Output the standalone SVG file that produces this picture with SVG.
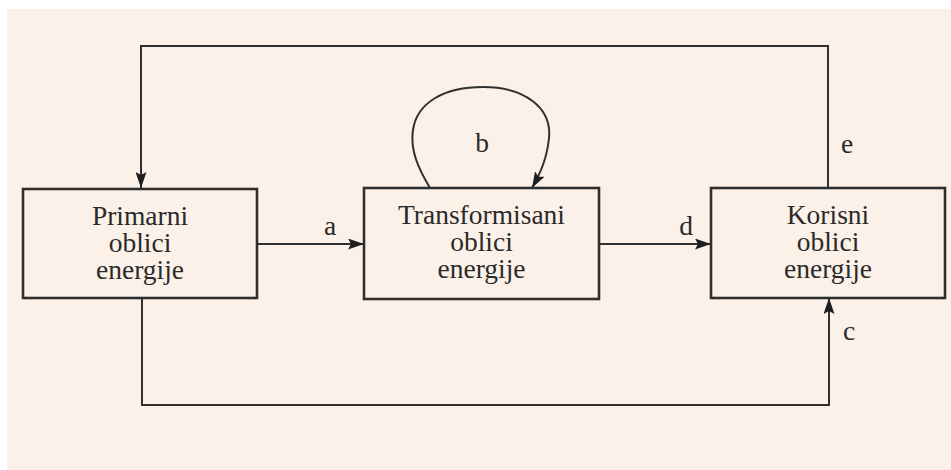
<svg xmlns="http://www.w3.org/2000/svg" width="951" height="470" viewBox="0 0 951 470">
  <style>
    .box { fill: none; stroke: #2e2e2e; stroke-width: 2.6; }
    .line { fill: none; stroke: #303030; stroke-width: 2; }
    .lbl { font-family: "Liberation Serif", "Times New Roman", serif; font-size: 27.5px; fill: #2a2a2a; text-anchor: middle; }
  </style>
  <defs>
    <marker id="arrow" viewBox="0 0 16 11" refX="16" refY="5.5" markerWidth="16" markerHeight="11" markerUnits="userSpaceOnUse" orient="auto">
      <path d="M0,0 L16,5.5 L0,11 L3,5.5 Z" fill="#1e1e1e"/>
    </marker>
  </defs>

  <rect x="0" y="0" width="951" height="470" fill="#ffffff"/>
  <rect x="7" y="9" width="944" height="461" fill="#fcf1e8"/>

  <g id="connectors">
    <!-- feedback from useful forms back to primary forms -->
    <path class="line" d="M828,188 V46 H141 V188" marker-end="url(#arrow)"/>
    <!-- primary to transformed -->
    <path class="line" d="M257,244 H364" marker-end="url(#arrow)"/>
    <!-- transformed to useful -->
    <path class="line" d="M599,244 H711" marker-end="url(#arrow)"/>
    <!-- primary directly to useful -->
    <path class="line" d="M142,298 V405 H829 V298" marker-end="url(#arrow)"/>
    <!-- self loop on transformed -->
    <path class="line" d="M430,188 C418,168 410,150 413,130 C417,102 445,87 483,87 C525,87 552,108 549,138 C547,158 541,172 532,188" marker-end="url(#arrow)"/>
    <text class="lbl" x="330" y="235">a</text>
    <text class="lbl" x="482" y="152">b</text>
    <text class="lbl" x="849" y="340">c</text>
    <text class="lbl" x="686" y="235">d</text>
    <text class="lbl" x="847" y="153">e</text>
  </g>

  <g id="primarni">
    <rect class="box" x="23" y="189" width="234" height="109"/>
    <text class="lbl" x="140" y="225">Primarni</text>
    <text class="lbl" x="140" y="252">oblici</text>
    <text class="lbl" x="140" y="279">energije</text>
  </g>

  <g id="transformisani">
    <rect class="box" x="364" y="188" width="235" height="111"/>
    <text class="lbl" x="481.5" y="224">Transformisani</text>
    <text class="lbl" x="481.5" y="251">oblici</text>
    <text class="lbl" x="481.5" y="278">energije</text>
  </g>

  <g id="korisni">
    <rect class="box" x="711" y="188" width="234" height="110"/>
    <text class="lbl" x="828" y="224">Korisni</text>
    <text class="lbl" x="828" y="251">oblici</text>
    <text class="lbl" x="828" y="278">energije</text>
  </g>
</svg>
